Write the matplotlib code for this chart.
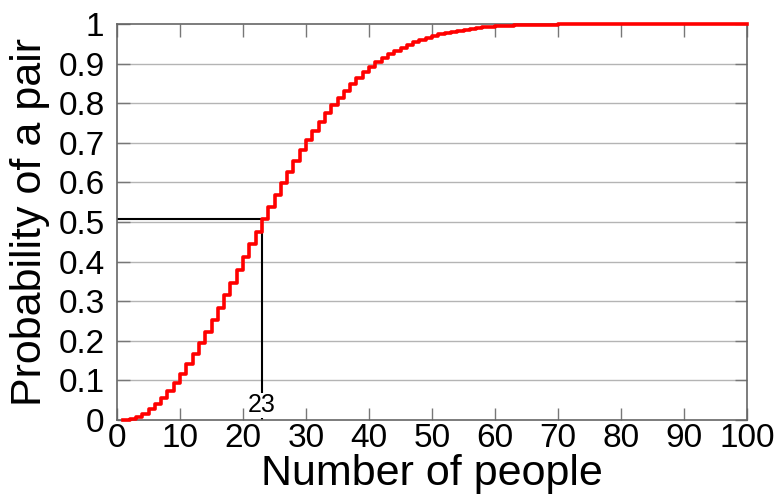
import matplotlib
matplotlib.use("Agg")
import matplotlib.pyplot as plt

people = list(range(1, 101))
prob = [0.0, 0.00274, 0.00820, 0.01636, 0.02714, 0.04046, 0.05624, 0.07434, 0.09462, 0.11695,
        0.14114, 0.16702, 0.19441, 0.22310, 0.25290, 0.28360, 0.31501, 0.34691, 0.37912, 0.41144,
        0.44369, 0.47570, 0.50730, 0.53834, 0.56870, 0.59824, 0.62686, 0.65446, 0.68097, 0.70632,
        0.73045, 0.75335, 0.77497, 0.79532, 0.81438, 0.83218, 0.84873, 0.86407, 0.87822, 0.89123,
        0.90315, 0.91403, 0.92392, 0.93289, 0.94098, 0.94825, 0.95477, 0.96060, 0.96578, 0.97037,
        0.97443, 0.97800, 0.98114, 0.98388, 0.98626, 0.98833, 0.99012, 0.99166, 0.99299, 0.99412,
        0.99508, 0.99590, 0.99660, 0.99719, 0.99768, 0.99810, 0.99844, 0.99873, 0.99896, 0.99916,
        0.99932, 0.99945, 0.99956, 0.99965, 0.99972, 0.99978, 0.99983, 0.99987, 0.99990, 0.99991,
        0.99993, 0.99995, 0.99996, 0.99997, 0.99997, 0.99998, 0.99998, 0.99999, 0.99999, 0.99999,
        0.99999, 1.0, 1.0, 1.0, 1.0, 1.0, 1.0, 1.0, 1.0, 1.0]
marked_n = 23
marked_p = 0.5073
xticks = list(range(0, 101, 10))
yticks = [i / 10 for i in range(11)]
ytick_labels = ["0", "0.1", "0.2", "0.3", "0.4", "0.5", "0.6", "0.7", "0.8", "0.9", "1"]

plt.rcParams['font.family'] = ['Liberation Sans', 'DejaVu Sans']

fig = plt.figure(figsize=(7.8, 5.03), dpi=100)
ax = fig.add_axes([0.150, 0.165, 0.8077, 0.787])

ax.set_xlim(0, 100)
ax.set_ylim(0, 1)
for y in yticks[1:-1]:
    ax.axhline(y, color='#b4b4b4', lw=1.0, zorder=1)

ax.plot([0, marked_n], [marked_p, marked_p], color='black', lw=1.5, zorder=2)
ax.plot([marked_n, marked_n], [0, marked_p], color='black', lw=1.5, zorder=2)
ax.text(marked_n, 0.037, str(marked_n), ha='center', va='center', fontsize=18,
        bbox=dict(facecolor='white', edgecolor='none', pad=0.5), zorder=3)

ax.plot(people, prob, drawstyle='steps-post', color='#ff0000', lw=2.6, zorder=4, clip_on=False)

ax.set_xticks(xticks)
ax.set_yticks(yticks)
ax.set_yticklabels(ytick_labels)
ax.tick_params(axis='both', direction='in', length=9, width=1, color='#777777',
               labelsize=24, top=True, right=True)
ax.tick_params(axis='x', pad=2)
ax.tick_params(axis='y', pad=9)
for s in ax.spines.values():
    s.set_color('#666666')
    s.set_linewidth(1.2)

ax.set_xlabel("Number of people", fontsize=31, labelpad=0)
ax.set_ylabel("Probability of a pair", fontsize=31, labelpad=6)

fig.savefig("out.png", dpi=100)
